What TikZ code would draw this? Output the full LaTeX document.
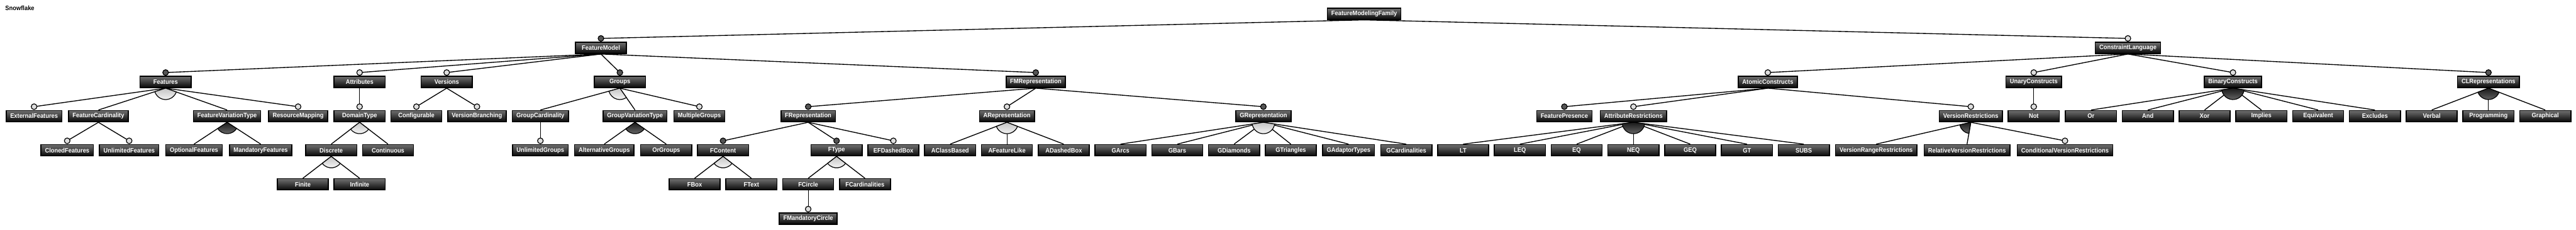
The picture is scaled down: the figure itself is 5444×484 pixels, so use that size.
\documentclass[tikz,border=0pt]{standalone}
\usepackage{fontspec}
\setmainfont{Liberation Sans}[FakeStretch=0.92]
\usetikzlibrary{calc}
\definecolor{boxtop}{RGB}{112,112,112}
\definecolor{boxbot}{RGB}{6,6,6}
\definecolor{mandfill}{RGB}{85,85,85}
\definecolor{optfill}{RGB}{222,222,222}
\definecolor{lighttop}{RGB}{195,195,195}
\definecolor{lightbot}{RGB}{248,248,248}
\definecolor{darktop}{RGB}{25,25,25}
\definecolor{darkbot}{RGB}{105,105,105}
\pgfdeclarelayer{bottomlayer}
\pgfdeclarelayer{background}
\pgfsetlayers{bottomlayer,background,main}
\tikzset{
  fbox/.style={draw=black, line width=2pt, rectangle, top color=boxtop, bottom color=boxbot,
    text=white, font=\fontsize{13.5}{15}\selectfont\bfseries,
    minimum width=108pt, minimum height=24pt, inner xsep=8.5pt, inner ysep=0pt},
  conn/.style={draw=black, line width=1.8pt},
  thinconn/.style={line width=1pt},
  mandc/.style={circle, draw=black, line width=1.6pt, fill=mandfill, minimum size=12pt, inner sep=0pt},
  optc/.style={circle, draw=black, line width=1.6pt, fill=optfill, minimum size=12pt, inner sep=0pt},
  larc/.style={draw=black, line width=1.6pt, line join=round, top color=lighttop, bottom color=lightbot},
  darc/.style={draw=black, line width=1.6pt, line join=round, top color=darktop, bottom color=darkbot},
}
% box: name (= text), x, y
\newcommand\fmbox[3]{\node[fbox] (#1) at (#2,#3) {#1};}
% mandatory child: [extra], parent, child
\newcommand\Mand[3][]{\node[mandc] (c#3) at ([yshift=7pt]#3.north) {};
  \begin{pgfonlayer}{background}\draw[conn,#1] (#2.south) -- (c#3.center);\end{pgfonlayer}}
% optional child
\newcommand\Opt[3][]{\node[optc] (c#3) at ([yshift=7pt]#3.north) {};
  \begin{pgfonlayer}{background}\draw[conn,#1] (#2.south) -- (c#3.center);\end{pgfonlayer}}
% group child
\newcommand\Grp[3][]{\begin{pgfonlayer}{background}\draw[conn,#1] (#2.south) -- (#3.north);\end{pgfonlayer}}
% group arc: style, parent, first child, last child
\newcommand\GArc[4]{\begin{pgfonlayer}{background}
  \path[#1] let \p1=(#2.south), \p2=(#3.north), \p3=(#4.north),
    \n1={atan2(\y2-\y1,\x2-\x1)}, \n2={atan2(\y3-\y1,\x3-\x1)} in
    (\p1) -- ++(\n1:24pt) arc[start angle=\n1, end angle=\n2, radius=24pt] -- cycle;
  \end{pgfonlayer}}
\begin{document}
\begin{tikzpicture}[x=1pt,y=-1pt]
\begin{pgfonlayer}{bottomlayer}
\fill[white] (0,0) rectangle (5444,484);
\end{pgfonlayer}
\useasboundingbox (0,0) rectangle (5444,484);
\node[anchor=west, text=black, font=\fontsize{13.5}{15}\selectfont\bfseries, inner sep=0pt] (title) at (11,17) {Snowflake};
% level 0
\fmbox{FeatureModelingFamily}{2883}{29}
% level 1
\fmbox{FeatureModel}{1270}{101}
\fmbox{ConstraintLanguage}{4497}{101}
% level 2
\fmbox{Features}{350}{173}
\fmbox{Attributes}{760}{173}
\fmbox{Versions}{944}{173}
\fmbox{Groups}{1310}{173}
\fmbox{FMRepresentation}{2189}{173}
\fmbox{AtomicConstructs}{3736}{173}
\fmbox{UnaryConstructs}{4298}{173}
\fmbox{BinaryConstructs}{4719}{173}
\fmbox{CLRepresentations}{5259}{173}
% level 3
\fmbox{ExternalFeatures}{72}{245}
\fmbox{FeatureCardinality}{208}{245}
\fmbox{FeatureVariationType}{480}{245}
\fmbox{ResourceMapping}{630}{245}
\fmbox{DomainType}{760}{245}
\fmbox{Configurable}{880}{245}
\fmbox{VersionBranching}{1008}{245}
\fmbox{GroupCardinality}{1142}{245}
\fmbox{GroupVariationType}{1342}{245}
\fmbox{MultipleGroups}{1478}{245}
\fmbox{FRepresentation}{1708}{245}
\fmbox{ARepresentation}{2128}{245}
\fmbox{GRepresentation}{2670}{245}
\fmbox{FeaturePresence}{3306}{245}
\fmbox{AttributeRestrictions}{3452}{245}
\fmbox{VersionRestrictions}{4165}{245}
\fmbox{Not}{4298}{245}
\fmbox{Or}{4419}{245}
\fmbox{And}{4539}{245}
\fmbox{Xor}{4659}{245}
\fmbox{Implies}{4779}{245}
\fmbox{Equivalent}{4899}{245}
\fmbox{Excludes}{5019}{245}
\fmbox{Verbal}{5139}{245}
\fmbox{Programming}{5259}{245}
\fmbox{Graphical}{5379}{245}
% level 4
\fmbox{ClonedFeatures}{142}{317}
\fmbox{UnlimitedFeatures}{273}{317}
\fmbox{OptionalFeatures}{410}{317}
\fmbox{MandatoryFeatures}{551}{317}
\fmbox{Discrete}{700}{317}
\fmbox{Continuous}{820}{317}
\fmbox{UnlimitedGroups}{1142}{317}
\fmbox{AlternativeGroups}{1277}{317}
\fmbox{OrGroups}{1408}{317}
\fmbox{FContent}{1528}{317}
\fmbox{FType}{1768}{317}
\fmbox{EFDashedBox}{1888}{317}
\fmbox{AClassBased}{2008}{317}
\fmbox{AFeatureLike}{2128}{317}
\fmbox{ADashedBox}{2248}{317}
\fmbox{GArcs}{2368}{317}
\fmbox{GBars}{2488}{317}
\fmbox{GDiamonds}{2608}{317}
\fmbox{GTriangles}{2728}{317}
\fmbox{GAdaptorTypes}{2850}{317}
\fmbox{GCardinalities}{2972}{317}
\fmbox{LT}{3092}{317}
\fmbox{LEQ}{3212}{317}
\fmbox{EQ}{3332}{317}
\fmbox{NEQ}{3452}{317}
\fmbox{GEQ}{3572}{317}
\fmbox{GT}{3692}{317}
\fmbox{SUBS}{3812}{317}
\fmbox{VersionRangeRestrictions}{3965}{317}
\fmbox{RelativeVersionRestrictions}{4157}{317}
\fmbox{ConditionalVersionRestrictions}{4364}{317}
% level 5
\fmbox{Finite}{640}{389}
\fmbox{Infinite}{760}{389}
\fmbox{FBox}{1468}{389}
\fmbox{FText}{1588}{389}
\fmbox{FCircle}{1708}{389}
\fmbox{FCardinalities}{1828}{389}
% level 6
\fmbox{FMandatoryCircle}{1708}{461}
% ---- edges ----
\Mand{FeatureModelingFamily}{FeatureModel}
\Opt{FeatureModelingFamily}{ConstraintLanguage}
\Mand{FeatureModel}{Features}
\Opt{FeatureModel}{Attributes}
\Opt{FeatureModel}{Versions}
\Mand{FeatureModel}{Groups}
\Mand{FeatureModel}{FMRepresentation}
\Opt{Features}{ExternalFeatures}
\Grp{Features}{FeatureCardinality}
\Grp{Features}{FeatureVariationType}
\Opt{Features}{ResourceMapping}
\Opt{FeatureCardinality}{ClonedFeatures}
\Opt{FeatureCardinality}{UnlimitedFeatures}
\Grp{FeatureVariationType}{OptionalFeatures}
\Grp{FeatureVariationType}{MandatoryFeatures}
\Opt[thinconn]{Attributes}{DomainType}
\Grp{DomainType}{Discrete}
\Grp{DomainType}{Continuous}
\Grp{Discrete}{Finite}
\Grp{Discrete}{Infinite}
\Opt{Versions}{Configurable}
\Opt{Versions}{VersionBranching}
\Grp{Groups}{GroupCardinality}
\Grp{Groups}{GroupVariationType}
\Opt{Groups}{MultipleGroups}
\Opt[thinconn]{GroupCardinality}{UnlimitedGroups}
\Grp{GroupVariationType}{AlternativeGroups}
\Grp{GroupVariationType}{OrGroups}
\Mand{FMRepresentation}{FRepresentation}
\Opt{FMRepresentation}{ARepresentation}
\Mand{FMRepresentation}{GRepresentation}
\Mand{FRepresentation}{FContent}
\Mand{FRepresentation}{FType}
\Opt{FRepresentation}{EFDashedBox}
\Grp{FContent}{FBox}
\Grp{FContent}{FText}
\Grp{FType}{FCircle}
\Grp{FType}{FCardinalities}
\Opt[thinconn]{FCircle}{FMandatoryCircle}
\Grp{ARepresentation}{AClassBased}
\Grp[thinconn]{ARepresentation}{AFeatureLike}
\Grp{ARepresentation}{ADashedBox}
\Grp{GRepresentation}{GArcs}
\Grp{GRepresentation}{GBars}
\Grp{GRepresentation}{GDiamonds}
\Grp{GRepresentation}{GTriangles}
\Grp{GRepresentation}{GAdaptorTypes}
\Grp{GRepresentation}{GCardinalities}
\Opt{ConstraintLanguage}{AtomicConstructs}
\Opt{ConstraintLanguage}{UnaryConstructs}
\Opt{ConstraintLanguage}{BinaryConstructs}
\Mand{ConstraintLanguage}{CLRepresentations}
\Mand{AtomicConstructs}{FeaturePresence}
\Opt{AtomicConstructs}{AttributeRestrictions}
\Opt{AtomicConstructs}{VersionRestrictions}
\Grp{AttributeRestrictions}{LT}
\Grp{AttributeRestrictions}{LEQ}
\Grp{AttributeRestrictions}{EQ}
\Grp[thinconn]{AttributeRestrictions}{NEQ}
\Grp{AttributeRestrictions}{GEQ}
\Grp{AttributeRestrictions}{GT}
\Grp{AttributeRestrictions}{SUBS}
\Grp{VersionRestrictions}{VersionRangeRestrictions}
\Grp{VersionRestrictions}{RelativeVersionRestrictions}
\Opt{VersionRestrictions}{ConditionalVersionRestrictions}
\Opt[thinconn]{UnaryConstructs}{Not}
\Grp{BinaryConstructs}{Or}
\Grp{BinaryConstructs}{And}
\Grp{BinaryConstructs}{Xor}
\Grp{BinaryConstructs}{Implies}
\Grp{BinaryConstructs}{Equivalent}
\Grp{BinaryConstructs}{Excludes}
\Grp{CLRepresentations}{Verbal}
\Grp[thinconn]{CLRepresentations}{Programming}
\Grp{CLRepresentations}{Graphical}
% ---- group arcs ----
\GArc{larc}{Features}{FeatureCardinality}{FeatureVariationType}
\GArc{darc}{FeatureVariationType}{OptionalFeatures}{MandatoryFeatures}
\GArc{larc}{DomainType}{Discrete}{Continuous}
\GArc{larc}{Discrete}{Finite}{Infinite}
\GArc{larc}{Groups}{GroupCardinality}{GroupVariationType}
\GArc{darc}{GroupVariationType}{AlternativeGroups}{OrGroups}
\GArc{larc}{FContent}{FBox}{FText}
\GArc{larc}{FType}{FCircle}{FCardinalities}
\GArc{larc}{ARepresentation}{AClassBased}{ADashedBox}
\GArc{larc}{GRepresentation}{GArcs}{GCardinalities}
\GArc{darc}{AttributeRestrictions}{LT}{SUBS}
\GArc{darc}{VersionRestrictions}{VersionRangeRestrictions}{RelativeVersionRestrictions}
\GArc{darc}{BinaryConstructs}{Or}{Excludes}
\GArc{darc}{CLRepresentations}{Verbal}{Graphical}
\end{tikzpicture}
\end{document}
